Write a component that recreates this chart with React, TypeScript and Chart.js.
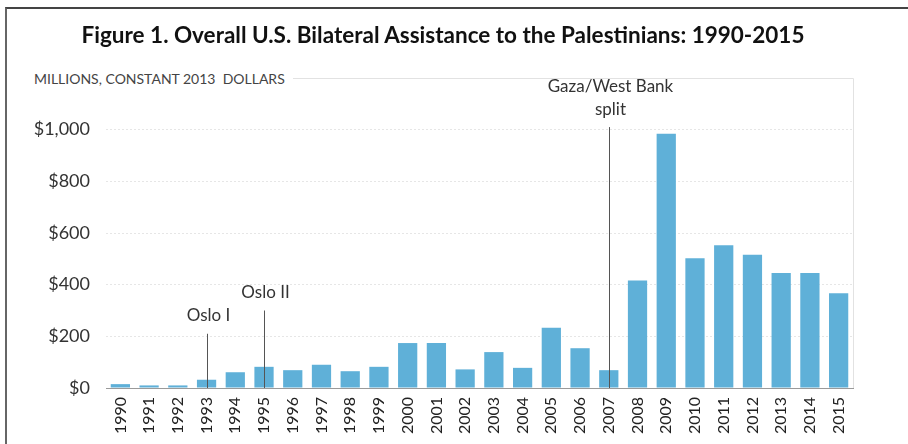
import React, { useEffect, useRef } from "react";
import { Chart, registerables } from "chart.js";

Chart.register(...registerables);

const years = [
  "1990", "1991", "1992", "1993", "1994", "1995", "1996", "1997", "1998", "1999",
  "2000", "2001", "2002", "2003", "2004", "2005", "2006", "2007", "2008", "2009",
  "2010", "2011", "2012", "2013", "2014", "2015",
];
const assistance = [
  15, 10, 10, 32, 61, 82, 69, 90, 65, 82,
  174, 174, 72, 139, 78, 233, 154, 69, 416, 984,
  502, 553, 516, 445, 445, 367,
];
const eventYears = ["1993", "1995", "2007"];
const eventLabels = [["Oslo I"], ["Oslo II"], ["Gaza/West Bank", "split"]];
const eventLineTops = [210, 300, 1010];

const titleText = "Figure 1. Overall U.S. Bilateral Assistance to the Palestinians: 1990-2015";
const unitText = "MILLIONS, CONSTANT 2013  DOLLARS";

const annotationPlugin = {
  id: "events",
  afterDatasetsDraw(chart: any) {
    const { ctx, chartArea, scales } = chart;
    const xs = scales.x;
    const ys = scales.y;
    ctx.save();
    // faint plot frame (top and right)
    ctx.strokeStyle = "#e2e2e2";
    ctx.lineWidth = 1;
    ctx.beginPath();
    ctx.moveTo(chartArea.left, chartArea.top + 0.5);
    ctx.lineTo(chartArea.right + 0.5, chartArea.top + 0.5);
    ctx.lineTo(chartArea.right + 0.5, chartArea.bottom);
    ctx.stroke();
    // event lines
    ctx.strokeStyle = "#555";
    ctx.fillStyle = "#333";
    ctx.font = "17px Lato";
    ctx.textAlign = "center";
    ctx.textBaseline = "middle";
    eventYears.forEach((yr, i) => {
      const idx = years.indexOf(yr);
      const x = Math.round(xs.getPixelForValue(idx)) + 0.5;
      const yTop = ys.getPixelForValue(eventLineTops[i]);
      const yBot = ys.getPixelForValue(0);
      ctx.beginPath();
      ctx.moveTo(x, yTop);
      ctx.lineTo(x, yBot);
      ctx.stroke();
      const lines = eventLabels[i];
      lines.forEach((t, j) => {
        const y = yTop - 18 - (lines.length - 1 - j) * 23;
        ctx.fillText(t, x + 1, y);
      });
    });
    ctx.restore();
  },
};

export default function App() {
  const canvasRef = useRef<HTMLCanvasElement>(null);

  useEffect(() => {
    if (!canvasRef.current) return;
    const chart = new Chart(canvasRef.current, {
      type: "bar",
      data: {
        labels: years,
        datasets: [
          {
            data: assistance,
            backgroundColor: "#5fb0d8",
            borderWidth: 0,
            categoryPercentage: 1,
            barPercentage: 0.67,
          },
        ],
      },
      options: {
        animation: false,
        responsive: false,
        devicePixelRatio: 1,
        layout: { padding: { top: 78, right: 55, bottom: 0, left: 0 } },
        plugins: {
          legend: { display: false },
          title: { display: false },
          tooltip: { enabled: false },
        },
        scales: {
          x: {
            grid: { display: false, drawTicks: false },
            border: { display: true, color: "#9a9a9a", width: 1 },
            ticks: {
              autoSkip: false,
              minRotation: 90,
              maxRotation: 90,
              padding: 9,
              color: "#222",
              font: { family: "Lato", size: 16 },
            },
            afterFit: (s: any) => {
              s.height = 56;
            },
          },
          y: {
            min: 0,
            max: 1200,
            ticks: {
              stepSize: 200,
              padding: 16,
              color: "#333",
              font: { family: "Lato", size: 18 },
              callback: (v: any) => (v > 1000 ? "" : "$" + Number(v).toLocaleString("en-US")),
            },
            grid: { color: "#e6e6e6", drawTicks: false, lineWidth: 1 },
            border: { display: false, dash: [2, 2] },
            afterFit: (s: any) => {
              s.width = 106;
            },
          },
        },
      },
      plugins: [annotationPlugin],
    });
    return () => chart.destroy();
  }, []);

  return (
    <div
      style={{
        position: "fixed",
        left: 0,
        top: 0,
        width: 908,
        height: 444,
        background: "#fff",
        overflow: "hidden",
        fontFamily: "Lato, sans-serif",
      }}
    >
      <canvas ref={canvasRef} width={908} height={444} style={{ position: "absolute", left: 0, top: 0 }} />
      <div
        style={{
          position: "absolute",
          left: 5,
          top: 7,
          width: 920,
          height: 460,
          borderTop: "2px solid #444",
          borderLeft: "2px solid #666",
          boxSizing: "border-box",
          pointerEvents: "none",
        }}
      />
      <div
        style={{
          position: "absolute",
          left: 0,
          top: 21,
          width: 886,
          textAlign: "center",
          fontWeight: 700,
          fontSize: 22.5,
          color: "#111",
          whiteSpace: "nowrap",
        }}
      >
        {titleText}
      </div>
      <div
        style={{
          position: "absolute",
          left: 34,
          top: 70,
          paddingRight: 8,
          background: "#fff",
          fontSize: 14,
          color: "#444",
          whiteSpace: "pre",
        }}
      >
        {unitText}
      </div>
    </div>
  );
}
